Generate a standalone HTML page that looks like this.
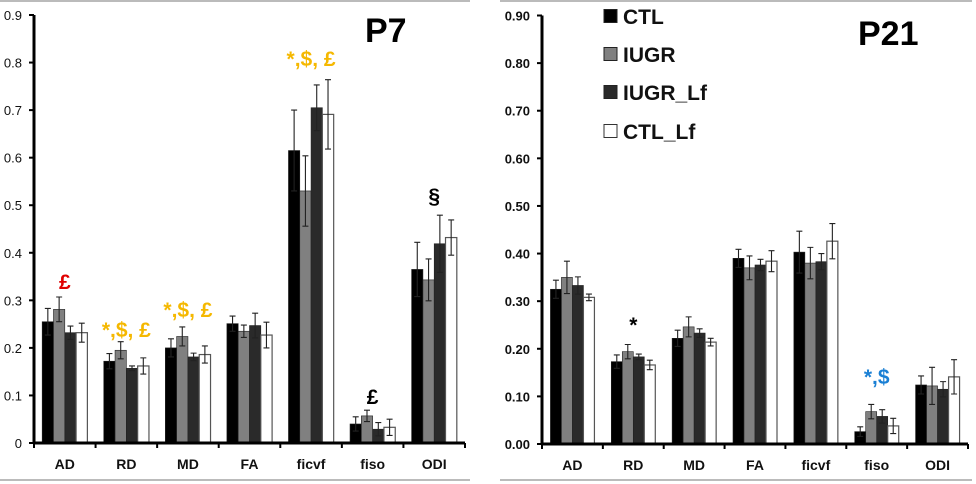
<!DOCTYPE html>
<html><head><meta charset="utf-8"><style>
html,body{margin:0;padding:0;background:#fff;width:976px;height:484px;overflow:hidden}
svg{display:block;font-family:"Liberation Sans",sans-serif}
</style></head><body>
<svg id="c" width="976" height="484">
<line x1="0" y1="1" x2="470" y2="1" stroke="#bbb" stroke-width="2"/>
<line x1="0" y1="480" x2="470" y2="480" stroke="#bbb" stroke-width="2"/>
<line x1="500" y1="1" x2="972" y2="1" stroke="#bbb" stroke-width="2"/>
<line x1="500" y1="480" x2="972" y2="480" stroke="#bbb" stroke-width="2"/>
</svg>
<script>
const categories=["AD","RD","MD","FA","ficvf","fiso","ODI"];
const seriesNames=["CTL","IUGR","IUGR_Lf","CTL_Lf"];
const p7CTL=[0.255,0.172,0.200,0.251,0.615,0.040,0.365];
const p7IUGR=[0.281,0.195,0.224,0.235,0.530,0.057,0.343];
const p7IUGRLf=[0.232,0.157,0.181,0.247,0.705,0.029,0.419];
const p7CTLLf=[0.232,0.162,0.186,0.227,0.691,0.033,0.432];
const p7CTLErr=[0.028,0.016,0.019,0.016,0.085,0.015,0.057];
const p7IUGRErr=[0.026,0.018,0.020,0.013,0.074,0.012,0.044];
const p7IUGRLfErr=[0.014,0.005,0.008,0.026,0.048,0.014,0.060];
const p7CTLLfErr=[0.020,0.017,0.018,0.027,0.073,0.017,0.037];
const p21CTL=[0.325,0.173,0.222,0.390,0.403,0.026,0.124];
const p21IUGR=[0.350,0.194,0.246,0.370,0.380,0.068,0.122];
const p21IUGRLf=[0.333,0.183,0.233,0.376,0.383,0.058,0.115];
const p21CTLLf=[0.308,0.166,0.214,0.384,0.426,0.038,0.141];
const p21CTLErr=[0.019,0.014,0.017,0.019,0.044,0.010,0.019];
const p21IUGRErr=[0.034,0.015,0.021,0.025,0.033,0.015,0.039];
const p21IUGRLfErr=[0.018,0.006,0.009,0.012,0.017,0.014,0.016];
const p21CTLLfErr=[0.007,0.010,0.008,0.022,0.037,0.016,0.036];
const p7Ticks=["0","0.1","0.2","0.3","0.4","0.5","0.6","0.7","0.8","0.9"];
const p21Ticks=["0.00","0.10","0.20","0.30","0.40","0.50","0.60","0.70","0.80","0.90"];
const tickValues=[0,0.1,0.2,0.3,0.4,0.5,0.6,0.7,0.8,0.9];
const p7Annot=[["£","#e00000",0,0.324],["*,$, £","#f5b800",1,0.223],["*,$, £","#f5b800",2,0.265],["*,$, £","#f5b800",4,0.793],["£","#000",5,0.082],["§","#000",6,0.505]];
const p21Annot=[["*","#000",1,0.235],["*,$","#1a7fd4",5,0.126]];

const fills=["#000","#808080","#2a2a2a","#fff"];
const NS="http://www.w3.org/2000/svg";
const svg=document.getElementById('c');
function el(t,a){const e=document.createElementNS(NS,t);for(const k in a)e.setAttribute(k,a[k]);svg.appendChild(e);return e;}

function drawPanel(p){
  const y=v=>p.y0-(v/0.9)*(p.y0-p.y9);
  const cw=(p.xEnd-p.ax)/categories.length;
  const x=i=>p.ax+i*cw;
  tickValues.forEach((v,i)=>{
    const t=el('line',{x1:p.ax-5,y1:y(v),x2:p.ax,y2:y(v),stroke:'#000','stroke-width':2});
    
    
    const l=el('text',{x:p.ax-12,y:y(v)+5,'text-anchor':'end','font-size':p.tfs,'font-weight':p.tw,fill:'#111'});
    l.textContent=p.ticks[i];
    
    
  });
  const bw=p.bw;
  categories.forEach((c,i)=>{
    const gx=x(i)+(cw-4*bw)/2;
    p.vals.forEach((arr,s)=>{
      const bx=gx+s*bw, v=arr[i], e=p.errs[s][i];
      const r=el('rect',{x:bx,y:y(v),width:bw,height:y(0)-y(v),fill:fills[s],stroke:s==3?'#555':'#222','stroke-width':s==3?1.2:0.6});
      
      
      const cx=bx+bw/2;
      const eb=el('path',{d:`M${cx},${y(v+e)}V${y(v-e)}M${cx-3},${y(v+e)}H${cx+3}M${cx-3},${y(v-e)}H${cx+3}`,stroke:'#222','stroke-width':1.1,fill:'none'});
      
      
    });
    const xl=el('text',{x:x(i)+cw/2,y:p.y0+26,'text-anchor':'middle','font-size':14,'font-weight':'bold',fill:'#111'});
    xl.textContent=c;
    
    
  });
  for(let i=0;i<=categories.length;i++){
    const t=el('line',{x1:x(i),y1:p.y0,x2:x(i),y2:p.y0+5,stroke:'#000','stroke-width':2});
    
    
  }
  const ya=el('line',{x1:p.ax,y1:p.y9,x2:p.ax,y2:p.y0+1,stroke:'#000','stroke-width':3});
  
  
  const xa=el('line',{x1:p.ax-1,y1:p.y0,x2:p.xEnd,y2:p.y0,stroke:'#000','stroke-width':3});
  
  
  p.annot.forEach(a=>{
    const t=el('text',{x:x(a[2])+cw/2,y:y(a[3]),'text-anchor':'middle','font-size':21,'font-weight':'bold',fill:a[1]});
    t.textContent=a[0];
    
    
  });
  const tt=el('text',{x:p.titleX,y:p.titleY,'font-size':34,'font-weight':'bold',fill:'#000'});
  tt.textContent=p.title;
  
  
}
drawPanel({id:'p7',ax:34,xEnd:465,y0:443,y9:15,bw:11.3,tfs:13,tw:'normal',ticks:p7Ticks,
  vals:[p7CTL,p7IUGR,p7IUGRLf,p7CTLLf],errs:[p7CTLErr,p7IUGRErr,p7IUGRLfErr,p7CTLLfErr],annot:p7Annot,title:'P7',titleX:365,titleY:42});
drawPanel({id:'p21',ax:542,xEnd:968,y0:444,y9:15.5,bw:11,tfs:13,tw:'bold',ticks:p21Ticks,
  vals:[p21CTL,p21IUGR,p21IUGRLf,p21CTLLf],errs:[p21CTLErr,p21IUGRErr,p21IUGRLfErr,p21CTLLfErr],annot:p21Annot,title:'P21',titleX:858,titleY:45});
const legY=[16,54,92,131];
seriesNames.forEach((n,i)=>{
  const r=el('rect',{x:604,y:legY[i]-6.5,width:13,height:13,fill:fills[i],stroke:i==3?'#333':'#222','stroke-width':1});
  
  
  const t=el('text',{x:623,y:legY[i]+8,'font-size':21,'font-weight':'bold',fill:'#111'});
  t.textContent=n;
  
  
});
</script>
</body></html>
